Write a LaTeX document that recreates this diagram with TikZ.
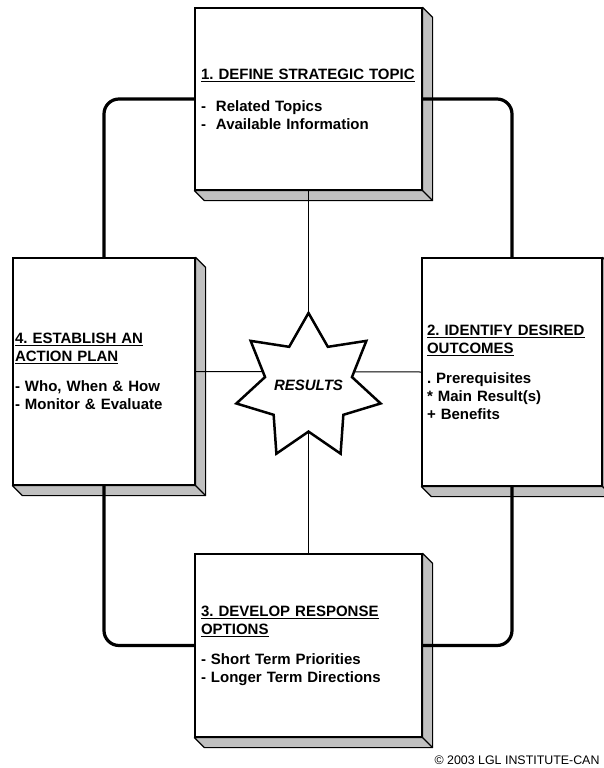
\documentclass[tikz,border=0pt]{standalone}
\usepackage{fontspec}
\setmainfont{Liberation Sans}
\usepackage{tikz}
\usetikzlibrary{calc,shapes.geometric}
\definecolor{sidegray}{RGB}{192,192,192}
\frenchspacing
\tikzset{
  stagebox/.style={draw=black, line width=1.2pt, fill=white, align=left, inner ysep=0pt, font=\fontsize{15}{18}\selectfont\bfseries},
  sideface/.style={draw=black, line width=1.2pt, fill=sidegray, line join=round},
  loopline/.style={line width=3.2pt, rounded corners=15pt},
  spokeline/.style={line width=1pt},
  resultstar/.style={star, star points=7, star point ratio=1.66, draw=black, line width=2.5pt, line join=miter, fill=white, inner sep=0pt, minimum size=148pt, font=\fontsize{15}{18}\selectfont\bfseries\itshape}
}

\begin{document}
\begin{tikzpicture}[x=1pt,y=-1pt]
  \useasboundingbox (0,0) rectangle (604,768);

  % the four stages
  \node[stagebox, minimum width=227pt, minimum height=182pt, inner xsep=6pt, text width=215pt] (define) at (308.5,99)
    {\underline{1. DEFINE STRATEGIC TOPIC}\\[14pt]-\ \ Related Topics\\-\ \ Available Information};
  \node[stagebox, minimum width=180pt, minimum height=228pt, inner xsep=5pt, text width=170pt] (outcomes) at (512,372)
    {\underline{2. IDENTIFY DESIRED}\\\underline{OUTCOMES}\\[12pt]. Prerequisites\\{*} Main Result(s)\\+ Benefits};
  \node[stagebox, minimum width=227pt, minimum height=183pt, inner xsep=6pt, text width=215pt] (options) at (308.5,645.5)
    {\underline{3. DEVELOP RESPONSE}\\\underline{OPTIONS}\\[12pt]- Short Term Priorities\\- Longer Term Directions};
  \node[stagebox, minimum width=182pt, minimum height=227pt, inner xsep=2pt, text width=178pt] (action) at (104,371.5)
    {\underline{4. ESTABLISH AN}\\\underline{ACTION PLAN}\\[12pt]- Who, When \& How\\- Monitor \& Evaluate};

  % raised sides
  \foreach \n in {define,outcomes,options,action} {
    \draw[sideface] (\n.south west) -- ++(10,10) -- ($(\n.south east)+(10,10)$) -- ($(\n.north east)+(10,10)$) -- (\n.north east) -- (\n.south east) -- cycle;
    \draw[sideface] (\n.south east) -- ++(10,10);
  }

  % spokes to the centre
  \draw[spokeline] (define.south) -- (options.north);
  \draw[spokeline] (action.east) -- (outcomes.west);

  % outer cycle
  \draw[loopline] (action.north) |- (define.west);
  \draw[loopline] (define.east) -| (outcomes.north);
  \draw[loopline] (options.east) -| (outcomes.south);
  \draw[loopline] (action.south) |- (options.west);

  \node[resultstar] (results) at (308.5,387) {\makebox[0pt]{\raisebox{3pt}{RESULTS}}};

  \node[anchor=base east, font=\fontsize{12.4}{14}\selectfont] (credit) at (603,764) {\textcopyright\ 2003 LGL INSTITUTE-CAN};
\end{tikzpicture}
\end{document}
